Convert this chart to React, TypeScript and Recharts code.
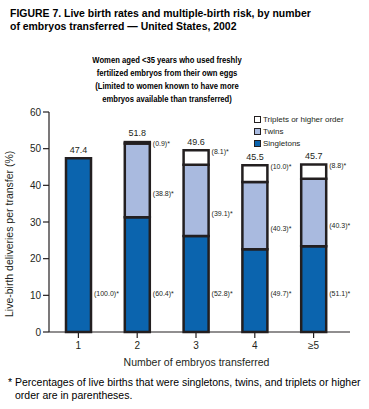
import { BarChart, Bar, XAxis, YAxis, LabelList, Legend } from 'recharts'

const categories = ['1', '2', '3', '4', '≥5']
const totals = [47.4, 51.8, 49.6, 45.5, 45.7]
const singletons = [47.4, 31.3, 26.2, 22.6, 23.4]
const twins = [0, 20.1, 19.4, 18.3, 18.4]
const triplets = [0, 0.4, 4.0, 4.6, 3.9]
const singletonPct = ['(100.0)*', '(60.4)*', '(52.8)*', '(49.7)*', '(51.1)*']
const twinPct = ['', '(38.8)*', '(39.1)*', '(40.3)*', '(40.3)*']
const tripletPct = ['', '(0.9)*', '(8.1)*', '(10.0)*', '(8.8)*']
const yTicks = [0, 10, 20, 30, 40, 50, 60]

const DARK = '#0b64ae'
const LIGHT = '#a9badf'
const EDGE = '#231f20'
const FONT = '"Liberation Sans", Arial, Helvetica, sans-serif'

const data = categories.map((c, i) => ({
  name: c,
  singletons: singletons[i],
  twins: twins[i],
  triplets: triplets[i],
  total: totals[i],
  sPct: singletonPct[i],
  tPct: twinPct[i],
  trPct: tripletPct[i],
}))

const pctStyle = { fontSize: 7, fill: '#231f20', fontFamily: FONT }

function box(props: any) {
  const vb = props.viewBox || {}
  return {
    x: vb.x ?? props.x,
    y: vb.y ?? props.y,
    width: vb.width ?? props.width,
    height: vb.height ?? props.height,
  }
}

function SingletonLabel(props: any) {
  const { x, y, width, height } = box(props)
  if (!props.value) return null
  return (
    <text x={x + width + 3} y={y + height - 38} dominantBaseline="middle" {...pctStyle}>
      {props.value}
    </text>
  )
}

function TwinLabel(props: any) {
  const { x, y, width, height } = box(props)
  if (!props.value) return null
  return (
    <text x={x + width + 3} y={y + height / 2 + 14} dominantBaseline="middle" {...pctStyle}>
      {props.value}
    </text>
  )
}

function TripletLabel(props: any) {
  const { x, y, width } = box(props)
  if (!props.value) return null
  return (
    <text x={x + width + 3} y={y + 2} dominantBaseline="middle" {...pctStyle}>
      {props.value}
    </text>
  )
}

function TotalLabel(props: any) {
  const { x, y, width } = box(props)
  return (
    <text
      x={x + width / 2}
      y={y - 8}
      textAnchor="middle"
      dominantBaseline="middle"
      fontSize={9}
      fill="#231f20"
      fontFamily={FONT}
    >
      {Number(props.value).toFixed(1)}
    </text>
  )
}

const legendItems = [
  { label: 'Triplets or higher order', color: '#ffffff' },
  { label: 'Twins', color: LIGHT },
  { label: 'Singletons', color: DARK },
]

function LegendBox() {
  return (
    <div style={{ fontFamily: FONT, fontSize: 8, color: '#231f20' }}>
      {legendItems.map((it) => (
        <div key={it.label} style={{ display: 'flex', alignItems: 'center', height: 12 }}>
          <span
            style={{
              display: 'inline-block',
              width: 5,
              height: 5,
              border: `1.5px solid ${EDGE}`,
              background: it.color,
              marginRight: 2,
            }}
          />
          {it.label}
        </div>
      ))}
    </div>
  )
}

export default function App() {
  return (
    <div
      style={{
        position: 'absolute',
        left: 0,
        top: 0,
        width: 369,
        height: 409,
        background: '#fff',
        fontFamily: FONT,
        color: '#000',
      }}
    >
      <div
        style={{
          position: 'absolute',
          left: 10,
          top: 7,
          fontSize: 11,
          fontWeight: 'bold',
          lineHeight: '13px',
          width: 380,
          transform: 'scaleX(0.95)',
          transformOrigin: 'left top',
        }}
      >
        FIGURE 7. Live birth rates and multiple-birth risk, by number
        <br />
        of embryos transferred — United States, 2002
      </div>
      <div
        style={{
          position: 'absolute',
          left: 67,
          width: 200,
          top: 54,
          fontSize: 9,
          fontWeight: 'bold',
          lineHeight: '13px',
          textAlign: 'center',
          transform: 'scaleX(0.85)',
          transformOrigin: 'center top',
        }}
      >
        Women aged &lt;35 years who used freshly
        <br />
        fertilized embryos from their own eggs
        <br />
        (Limited to women known to have more
        <br />
        embryos available than transferred)
      </div>
      <div style={{ position: 'absolute', left: 0, top: 0 }}>
        <BarChart
          width={369}
          height={409}
          data={data}
          margin={{ top: 112, right: 19, bottom: 47, left: 0 }}
          barSize={25}
        >
          <XAxis
            dataKey="name"
            padding={{ left: 0, right: 7 }}
            axisLine={{ stroke: EDGE, strokeWidth: 1.2 }}
            tickLine={{ stroke: EDGE, strokeWidth: 1.2 }}
            tickSize={6}
            tickMargin={4}
            tick={{ fontSize: 10, fill: '#231f20', fontFamily: FONT }}
            height={30}
            label={{
              value: 'Number of embryos transferred',
              position: 'insideBottom',
              offset: -4,
              dx: -3,
              fontSize: 10.5,
              fill: '#231f20',
              fontFamily: FONT,
            }}
          />
          <XAxis
            xAxisId="top"
            dataKey="name"
            orientation="top"
            padding={{ left: 0, right: 7 }}
            height={0}
            tick={false}
            tickLine={false}
            axisLine={{ stroke: EDGE, strokeWidth: 1.2 }}
          />
          <YAxis
            domain={[0, 60]}
            ticks={yTicks}
            width={49}
            axisLine={{ stroke: EDGE, strokeWidth: 1.2 }}
            tickLine={{ stroke: EDGE, strokeWidth: 1.2 }}
            tickSize={6}
            tickMargin={2}
            tick={{ fontSize: 10, fill: '#231f20', fontFamily: FONT }}
            label={{
              value: 'Live-birth deliveries per transfer (%)',
              angle: -90,
              position: 'insideLeft',
              offset: 9,
              dy: 95,
              fontSize: 10.5,
              fill: '#231f20',
              fontFamily: FONT,
            }}
          />
          <YAxis
            yAxisId="right"
            orientation="right"
            domain={[0, 60]}
            width={0}
            tick={false}
            tickLine={false}
            axisLine={{ stroke: EDGE, strokeWidth: 1.2 }}
          />
          <Legend
            content={<LegendBox />}
            layout="horizontal"
            verticalAlign="middle"
            align="center"
            wrapperStyle={{ position: 'absolute', left: 254, top: 113, width: 100 }}
          />
          <Bar dataKey="singletons" stackId="a" fill={DARK} stroke={EDGE} strokeWidth={2.5} isAnimationActive={false}>
            <LabelList dataKey="sPct" content={<SingletonLabel />} />
          </Bar>
          <Bar dataKey="twins" stackId="a" fill={LIGHT} stroke={EDGE} strokeWidth={2.5} isAnimationActive={false}>
            <LabelList dataKey="tPct" content={<TwinLabel />} />
          </Bar>
          <Bar dataKey="triplets" stackId="a" fill="#ffffff" stroke={EDGE} strokeWidth={2.5} isAnimationActive={false}>
            <LabelList dataKey="trPct" content={<TripletLabel />} />
          </Bar>
          <Bar
            dataKey="total"
            xAxisId="top"
            fill="none"
            stroke="none"
            legendType="none"
            isAnimationActive={false}
          >
            <LabelList dataKey="total" content={<TotalLabel />} />
          </Bar>
        </BarChart>
      </div>
      <div style={{ position: 'absolute', left: 8, top: 376, fontSize: 10.5, lineHeight: '13px', width: 380 }}>
        <span style={{ display: 'inline-block', width: 7 }}>*</span>Percentages of live births that were singletons,
        twins, and triplets or higher
        <br />
        <span style={{ display: 'inline-block', width: 7 }} />order are in parentheses.
      </div>
    </div>
  )
}
